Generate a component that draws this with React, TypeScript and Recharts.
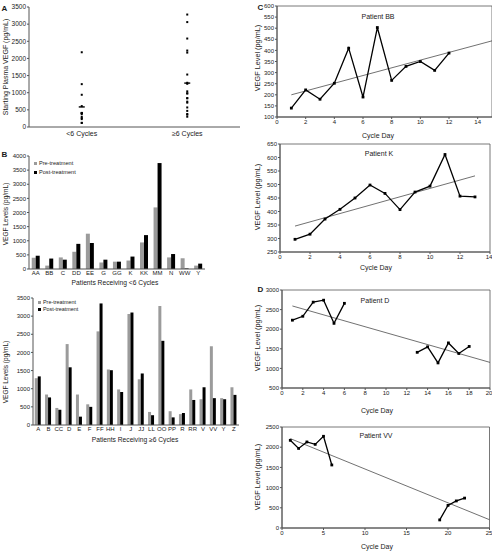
import React from 'react';
import {
  ScatterChart,
  Scatter,
  XAxis,
  YAxis,
  BarChart,
  Bar,
  LineChart,
  Line,
  Legend,
  ReferenceArea,
} from 'recharts';

const FONT = '"Liberation Sans", Arial, Helvetica, sans-serif';
const AXIS = '#555';
const TXT = '#1a1a1a';

// ---------- Panel B data (patients & VEGF pg/mL) ----------
const seriesNames = ['Pre-treatment', 'Post-treatment'];
const lt6Patients = ['AA', 'BB', 'C', 'DD', 'EE', 'G', 'GG', 'K', 'KK', 'MM', 'N', 'WW', 'Y'];
const lt6Pre = [400, 120, 410, 610, 1250, 230, 260, 300, 940, 2180, 410, 380, 120];
const lt6Post = [470, 370, 330, 890, 920, 330, 260, 440, 1200, 3750, 530, 20, 190];

const ge6Patients = ['A', 'B', 'CC', 'D', 'E', 'F', 'FF', 'HH', 'I', 'J', 'JJ', 'LL', 'OO', 'PP', 'R', 'RR', 'V', 'VV', 'Y', 'Z'];
const ge6Pre = [1290, 840, 470, 2230, 840, 570, 2580, 1530, 980, 3060, 1260, 360, 3280, 380, 300, 980, 710, 2170, 740, 1040];
const ge6Post = [1340, 760, 420, 1590, 230, 500, 3350, 1510, 910, 3100, 1420, 270, 2320, 210, 330, 690, 1040, 740, 710, 830];

// ---------- Panel A (starting VEGF = pre-treatment values) ----------
const groupLabels = ['<6 Cycles', '≥6 Cycles'];
const groupValues = [lt6Pre, ge6Pre];
const groupPos = [1, 3];
const aTicks = [0, 500, 1000, 1500, 2000, 2500, 3000, 3500];

// ---------- Panel C ----------
const bbDays = [1, 2, 3, 4, 5, 6, 7, 8, 9, 10, 11, 12];
const bbVegf = [140, 222, 180, 252, 410, 190, 503, 265, 328, 350, 310, 388];
const bbTrendDays = [1, 15];
const bbTrend = [200, 443];

const kDays = [1, 2, 3, 4, 5, 6, 7, 8, 9, 10, 11, 12, 13];
const kVegf = [297, 316, 372, 408, 450, 498, 467, 407, 472, 494, 611, 457, 454];
const kTrendDays = [1, 13];
const kTrend = [346, 532];

// ---------- Panel D ----------
const dDays1 = [1, 2, 3, 4, 5, 6];
const dVegf1 = [2230, 2330, 2690, 2740, 2150, 2660];
const dDays2 = [13, 14, 15, 16, 17, 18];
const dVegf2 = [1410, 1550, 1140, 1650, 1380, 1560];
const dTrendDays = [1, 20];
const dTrend = [2593, 1153];

const vvDays1 = [1, 2, 3, 4, 5, 6];
const vvVegf1 = [2170, 1970, 2130, 2070, 2270, 1560];
const vvDays2 = [19, 20, 21, 22];
const vvVegf2 = [200, 560, 670, 740];
const vvTrendDays = [1, 25];
const vvTrend = [2213, 205];

const pts = (xs: number[], ys: number[]) => xs.map((x, i) => ({ x, y: ys[i] }));
const mean = (a: number[]) => a.reduce((s, v) => s + v, 0) / a.length;

const SquareDot = (props: any) => {
  const { cx, cy, index } = props;
  if (cx == null || cy == null) return <g key={`n-${index}`} />;
  return <rect key={`d-${index}`} x={cx - 1.4} y={cy - 1.4} width={2.8} height={2.8} fill="#000" />;
};

const SmallDot = (props: any) => {
  const { cx, cy } = props;
  return <rect x={cx - 1} y={cy - 1} width={2} height={2} fill="#000" />;
};

const MeanBar = (props: any) => {
  const { cx, cy } = props;
  return <line x1={cx - 3} x2={cx + 3} y1={cy} y2={cy} stroke="#000" strokeWidth={1.4} />;
};

const Txt = ({ x, y, size, children, rotate, bold }: any) => (
  <div
    style={{
      position: 'absolute',
      left: x,
      top: y,
      transform: `translate(-50%, -50%)${rotate ? ' rotate(-90deg)' : ''}`,
      fontSize: size,
      lineHeight: 1,
      whiteSpace: 'nowrap',
      color: TXT,
      fontFamily: FONT,
      fontWeight: bold ? 'bold' : 'normal',
    }}
  >
    {children}
  </div>
);

const BarLegend = ({ payload, size, gap }: any) => {
  const items = [...(payload || [])].sort(
    (a: any, b: any) => seriesNames.indexOf(a.value) - seriesNames.indexOf(b.value)
  );
  return (
    <div style={{ fontFamily: FONT, fontSize: size, color: TXT, lineHeight: 1 }}>
      {items.map((p: any, i: number) => (
        <div key={i} style={{ display: 'flex', alignItems: 'center', height: gap }}>
          <span style={{ display: 'inline-block', width: 3, height: 3, background: p.color, marginRight: 2 }} />
          <span>{p.value}</span>
        </div>
      ))}
    </div>
  );
};

function range(a: number, b: number, s: number) {
  const r: number[] = [];
  for (let v = a; v <= b + 1e-9; v += s) r.push(v);
  return r;
}

function LinePanel(p: any) {
  const tick = { fontSize: 6, fill: TXT, fontFamily: FONT };
  return (
    <div style={{ position: 'absolute', left: p.left, top: p.top }}>
      <LineChart width={p.width} height={p.height} margin={{ top: p.mTop, right: p.mRight, bottom: 0, left: 0 }}>
        <XAxis
          type="number"
          dataKey="x"
          domain={p.xDomain}
          ticks={p.xTicks}
          allowDataOverflow
          height={p.xHeight}
          tickSize={2}
          tickMargin={1}
          tick={tick}
          axisLine={{ stroke: AXIS }}
          tickLine={{ stroke: AXIS }}
        />
        <YAxis
          type="number"
          dataKey="y"
          domain={p.yDomain}
          ticks={p.yTicks}
          allowDataOverflow
          width={p.yWidth}
          tickSize={2}
          tickMargin={1}
          tick={tick}
          axisLine={{ stroke: AXIS }}
          tickLine={{ stroke: AXIS }}
        />
        <ReferenceArea
          x1={p.xDomain[0]}
          x2={p.xDomain[1]}
          y1={p.yDomain[0]}
          y2={p.yDomain[1]}
          fill="none"
          stroke={AXIS}
          strokeWidth={0.8}
          ifOverflow="visible"
        />
        <Line data={p.trend} dataKey="y" stroke="#333" strokeWidth={0.7} dot={false} isAnimationActive={false} />
        {p.segments.map((seg: any, i: number) => (
          <Line
            key={i}
            data={seg}
            dataKey="y"
            stroke="#000"
            strokeWidth={1.3}
            dot={SquareDot}
            activeDot={false}
            isAnimationActive={false}
          />
        ))}
      </LineChart>
    </div>
  );
}

export default function App() {
  const aDots = groupValues.flatMap((vals, g) => vals.map((v) => ({ x: groupPos[g], y: v })));
  const aMeans = groupValues.map((vals, g) => ({ x: groupPos[g], y: mean(vals) }));
  const lt6Data = lt6Patients.map((name, i) => ({ name, pre: lt6Pre[i], post: lt6Post[i] }));
  const ge6Data = ge6Patients.map((name, i) => ({ name, pre: ge6Pre[i], post: ge6Post[i] }));
  const barTick = { fontSize: 6, fill: TXT, fontFamily: FONT };

  return (
    <div
      style={{
        position: 'absolute',
        left: 0,
        top: 0,
        width: 492,
        height: 551,
        overflow: 'hidden',
        background: '#fff',
        fontFamily: FONT,
      }}
    >
      {/* Panel A */}
      <div style={{ position: 'absolute', left: 0, top: 0 }}>
        <ScatterChart width={245} height={145} margin={{ top: 7, right: 5, bottom: 0, left: 0 }}>
          <XAxis
            type="number"
            dataKey="x"
            domain={[0, 4]}
            ticks={groupPos}
            tickFormatter={(v: number) => groupLabels[groupPos.indexOf(v)]}
            height={18}
            tickLine={false}
            tickSize={2}
            tickMargin={2}
            tick={{ fontSize: 7, fill: TXT, fontFamily: FONT }}
            axisLine={{ stroke: AXIS }}
          />
          <YAxis
            type="number"
            dataKey="y"
            domain={[0, 3500]}
            ticks={aTicks}
            width={29}
            tickSize={2}
            tickMargin={1}
            tick={{ fontSize: 6.5, fill: TXT, fontFamily: FONT }}
            axisLine={{ stroke: AXIS }}
            tickLine={{ stroke: AXIS }}
          />
          <Scatter data={aDots} shape={SmallDot} isAnimationActive={false} />
          <Scatter data={aMeans} shape={MeanBar} isAnimationActive={false} />
        </ScatterChart>
      </div>

      {/* Panel B top */}
      <div style={{ position: 'absolute', left: 0, top: 150 }}>
        <BarChart
          width={207}
          height={140}
          data={lt6Data}
          margin={{ top: 6, right: 2, bottom: 0, left: 0 }}
          barCategoryGap="20%"
          barGap={0}
        >
          <XAxis
            dataKey="name"
            interval={0}
            height={21}
            tickLine={false}
            tickSize={1}
            tickMargin={1}
            tick={barTick}
            axisLine={{ stroke: AXIS }}
          />
          <YAxis
            type="number"
            domain={[0, 4000]}
            ticks={range(0, 4000, 500)}
            width={29}
            tickSize={2}
            tickMargin={1}
            tick={barTick}
            axisLine={{ stroke: AXIS }}
            tickLine={{ stroke: AXIS }}
          />
          <Legend
            layout="vertical"
            align="center"
            verticalAlign="middle"
            wrapperStyle={{ position: 'absolute', left: 34, top: 9, width: 'auto', height: 'auto' }}
            content={(props: any) => <BarLegend {...props} size={5.6} gap={9} />}
          />
          <Bar dataKey="pre" name={seriesNames[0]} fill="#9b9b9b" isAnimationActive={false} />
          <Bar dataKey="post" name={seriesNames[1]} fill="#000" isAnimationActive={false} />
        </BarChart>
      </div>

      {/* Panel B bottom */}
      <div style={{ position: 'absolute', left: 0, top: 292 }}>
        <BarChart
          width={242}
          height={155}
          data={ge6Data}
          margin={{ top: 6, right: 3, bottom: 0, left: 0 }}
          barCategoryGap="17%"
          barGap={0}
        >
          <XAxis
            dataKey="name"
            interval={0}
            height={22}
            tickLine={false}
            tickSize={1}
            tickMargin={1}
            tick={barTick}
            axisLine={{ stroke: AXIS }}
          />
          <YAxis
            type="number"
            domain={[0, 3500]}
            ticks={range(0, 3500, 500)}
            width={33}
            tickSize={2}
            tickMargin={1}
            tick={barTick}
            axisLine={{ stroke: AXIS }}
            tickLine={{ stroke: AXIS }}
          />
          <Legend
            layout="vertical"
            align="center"
            verticalAlign="middle"
            wrapperStyle={{ position: 'absolute', left: 38, top: 7, width: 'auto', height: 'auto' }}
            content={(props: any) => <BarLegend {...props} size={5.4} gap={7} />}
          />
          <Bar dataKey="pre" name={seriesNames[0]} fill="#9b9b9b" isAnimationActive={false} />
          <Bar dataKey="post" name={seriesNames[1]} fill="#000" isAnimationActive={false} />
        </BarChart>
      </div>

      {/* Panel C: Patient BB */}
      <LinePanel
        left={249}
        top={0}
        width={243}
        height={140}
        mTop={6}
        mRight={0}
        yWidth={28}
        xHeight={23}
        xDomain={[0, 15]}
        xTicks={range(0, 14, 2)}
        yDomain={[100, 600]}
        yTicks={range(100, 600, 50)}
        trend={pts(bbTrendDays, bbTrend)}
        segments={[pts(bbDays, bbVegf)]}
      />
      {/* Panel C: Patient K */}
      <LinePanel
        left={250}
        top={138}
        width={242}
        height={134}
        mTop={6}
        mRight={2}
        yWidth={30}
        xHeight={20}
        xDomain={[0, 14]}
        xTicks={range(0, 14, 2)}
        yDomain={[250, 650]}
        yTicks={range(250, 650, 50)}
        trend={pts(kTrendDays, kTrend)}
        segments={[pts(kDays, kVegf)]}
      />
      {/* Panel D: Patient D */}
      <LinePanel
        left={250}
        top={284}
        width={242}
        height={130}
        mTop={6}
        mRight={2}
        yWidth={32}
        xHeight={26}
        xDomain={[0, 20]}
        xTicks={range(0, 20, 2)}
        yDomain={[500, 3000]}
        yTicks={range(500, 3000, 500)}
        trend={pts(dTrendDays, dTrend)}
        segments={[pts(dDays1, dVegf1), pts(dDays2, dVegf2)]}
      />
      {/* Panel D: Patient VV */}
      <LinePanel
        left={250}
        top={421}
        width={242}
        height={130}
        mTop={6}
        mRight={2.5}
        yWidth={32}
        xHeight={23}
        xDomain={[0, 25]}
        xTicks={range(0, 25, 5)}
        yDomain={[0, 2500]}
        yTicks={range(0, 2500, 500)}
        trend={pts(vvTrendDays, vvTrend)}
        segments={[pts(vvDays1, vvVegf1), pts(vvDays2, vvVegf2)]}
      />

      {/* Panel letters */}
      <Txt x={4.5} y={9} size={8} bold>A</Txt>
      <Txt x={4.5} y={155} size={8} bold>B</Txt>
      <Txt x={260.5} y={7.5} size={8} bold>C</Txt>
      <Txt x={260.5} y={290} size={8} bold>D</Txt>

      {/* Axis titles */}
      <Txt x={5} y={67} size={7} rotate>Starting Plasma VEGF (pg/mL)</Txt>
      <Txt x={6} y={214} size={6.5} rotate>VEGF Levels (pg/mL)</Txt>
      <Txt x={115} y={283} size={6.7}>Patients Receiving &lt;6 Cycles</Txt>
      <Txt x={6} y={372} size={6.5} rotate>VEGF Levels (pg/mL)</Txt>
      <Txt x={135} y={440} size={6.7}>Patients Receiving ≥6 Cycles</Txt>

      <Txt x={258} y={58} size={7.3} rotate>VEGF Level (pg/mL)</Txt>
      <Txt x={378} y={135} size={7}>Cycle Day</Txt>
      <Txt x={378} y={16} size={7}>Patient BB</Txt>

      <Txt x={258} y={197} size={7.3} rotate>VEGF Level (pg/mL)</Txt>
      <Txt x={376} y={267} size={7}>Cycle Day</Txt>
      <Txt x={379} y={153} size={7}>Patient K</Txt>

      <Txt x={258} y={338} size={7.3} rotate>VEGF Level (pg/mL)</Txt>
      <Txt x={377} y={410} size={7}>Cycle Day</Txt>
      <Txt x={375} y={300} size={7}>Patient D</Txt>

      <Txt x={258} y={477} size={7.3} rotate>VEGF Level (pg/mL)</Txt>
      <Txt x={377} y={546} size={7}>Cycle Day</Txt>
      <Txt x={376} y={435} size={7}>Patient VV</Txt>
    </div>
  );
}
